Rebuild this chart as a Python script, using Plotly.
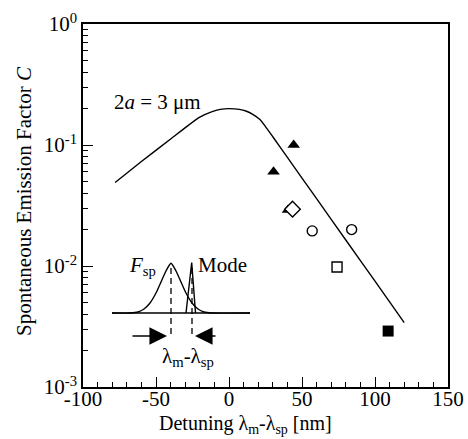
import math
import plotly.graph_objects as go

# ---- main data ----
curve_x = [-78, -60, -40, -29, -20, -12, -6, 0, 7, 12, 16, 21, 25, 30, 40, 60, 80, 100, 120]
curve_y = [0.049, 0.073, 0.112, 0.142, 0.170, 0.188, 0.197, 0.200, 0.197, 0.190, 0.180,
           0.163, 0.142, 0.117, 0.079, 0.036, 0.0164, 0.0075, 0.0034]

tri_x = [40.4, 30.5, 44.3]
tri_y = [0.029, 0.060, 0.100]
diamond_x = [43.5]
diamond_y = [0.0295]
circle_x = [57, 84]
circle_y = [0.0195, 0.0200]
osquare_x = [74]
osquare_y = [0.0098]
fsquare_x = [109]
fsquare_y = [0.0029]

x_tickvals = [-100, -50, 0, 50, 100, 150]
x_ticktext = ["-100", "-50", "0", "50", "100", "150"]
y_tickvals = [0.001, 0.01, 0.1, 1]
y_ticktext = ["10<sup>-3</sup>", "10<sup>-2</sup>", "10<sup>-1</sup>", "10<sup>0</sup>"]
y_minor = [m * 10 ** e for e in (-3, -2, -1) for m in range(2, 10)]

x_title = "Detuning λ<sub>m</sub>-λ<sub>sp</sub> [nm]"
y_title = "Spontaneous Emission Factor <i>C</i>"
label_text = "2<i>a</i> = 3 μm"
label_x, label_y = -80, 0.226

# ---- inset schematic (inset units) ----
inset_base_x = [12, 150]
inset_base_y = [57, 57]
gauss_x = [12, 30, 38, 44, 50, 56, 61, 66, 71, 76, 81, 86, 92, 98, 104, 112, 150]
gauss_y = [57, 57, 58, 61, 67, 77, 88, 99, 106.7, 99, 88, 77, 67, 61, 58, 57, 57]
mode_x = [86, 91.7, 95.5]
mode_y = [57, 107.5, 57]
dash_x = [71, 92]
dash_y = [102, 33]

FONT = "Liberation Serif, Times New Roman, serif"

fig = go.Figure()

fig.add_trace(go.Scatter(x=curve_x, y=curve_y, mode="lines",
                         line=dict(color="black", width=1.4, shape="spline", smoothing=0.5),
                         showlegend=False))
fig.add_trace(go.Scatter(x=tri_x, y=tri_y, mode="markers",
                         marker=dict(symbol="triangle-up", size=11, color="black"), showlegend=False))
fig.add_trace(go.Scatter(x=diamond_x, y=diamond_y, mode="markers",
                         marker=dict(symbol="diamond", size=12, color="white",
                                     line=dict(color="black", width=1.4)), showlegend=False))
fig.add_trace(go.Scatter(x=circle_x, y=circle_y, mode="markers",
                         marker=dict(symbol="circle", size=10, color="white",
                                     line=dict(color="black", width=1.4)), showlegend=False))
fig.add_trace(go.Scatter(x=osquare_x, y=osquare_y, mode="markers",
                         marker=dict(symbol="square", size=10, color="white",
                                     line=dict(color="black", width=1.4)), showlegend=False))
fig.add_trace(go.Scatter(x=fsquare_x, y=fsquare_y, mode="markers",
                         marker=dict(symbol="square", size=11, color="black"), showlegend=False))

# inset traces
fig.add_trace(go.Scatter(x=inset_base_x, y=inset_base_y, mode="lines", xaxis="x2", yaxis="y2",
                         line=dict(color="black", width=1.4), showlegend=False))
fig.add_trace(go.Scatter(x=gauss_x, y=gauss_y, mode="lines", xaxis="x2", yaxis="y2",
                         line=dict(color="black", width=1.4, shape="spline", smoothing=0.6),
                         showlegend=False))
fig.add_trace(go.Scatter(x=mode_x, y=mode_y, mode="lines", xaxis="x2", yaxis="y2",
                         line=dict(color="black", width=1.4), showlegend=False))
for dx in dash_x:
    fig.add_trace(go.Scatter(x=[dx, dx], y=dash_y, mode="lines", xaxis="x2", yaxis="y2",
                             line=dict(color="black", width=1.3, dash="6px,4px"), showlegend=False))

annotations = [
    dict(x=label_x, y=math.log10(label_y), xref="x", yref="y", text=label_text, showarrow=False,
         xanchor="left", yanchor="middle", font=dict(family=FONT, size=21, color="black")),
    dict(x=42, y=104, xref="x2", yref="y2", text="<i>F</i><sub>sp</sub>", showarrow=False,
         font=dict(family=FONT, size=21, color="black")),
    dict(x=122, y=105, xref="x2", yref="y2", text="Mode", showarrow=False,
         font=dict(family=FONT, size=21, color="black")),
    dict(x=88, y=13, xref="x2", yref="y2", text="λ<sub>m</sub>-λ<sub>sp</sub>", showarrow=False,
         font=dict(family=FONT, size=21, color="black")),
    dict(x=67, y=34, ax=31, ay=34, xref="x2", yref="y2", axref="x2", ayref="y2", text="",
         showarrow=True, arrowhead=2, arrowsize=2.7, arrowwidth=1.3, arrowcolor="black"),
    dict(x=95, y=34, ax=117, ay=34, xref="x2", yref="y2", axref="x2", ayref="y2", text="",
         showarrow=True, arrowhead=2, arrowsize=2.7, arrowwidth=1.3, arrowcolor="black"),
    # axis titles
    dict(x=(157 - 83) / 365, y=(387 - 424) / 363, xref="paper", yref="paper", text=x_title,
         showarrow=False, xanchor="left", yanchor="middle",
         font=dict(family=FONT, size=20, color="black")),
    dict(x=(24 - 83) / 365, y=(387 - 201) / 363, xref="paper", yref="paper", text=y_title,
         showarrow=False, textangle=-90, xanchor="center", yanchor="middle",
         font=dict(family=FONT, size=21, color="black")),
]

fig.update_layout(
    width=468, height=439,
    margin=dict(l=83, r=20, t=24, b=52),
    paper_bgcolor="white", plot_bgcolor="white",
    font=dict(family=FONT, size=21, color="black"),
    annotations=annotations,
    xaxis=dict(range=[-100, 150], tickmode="array", tickvals=x_tickvals, ticktext=x_ticktext,
               ticks="inside", ticklen=10, tickwidth=1.3, ticklabelstandoff=-8,
               tickcolor="black", showline=True, linecolor="black", linewidth=1.5, mirror=True,
               showgrid=False, zeroline=False, tickfont=dict(family=FONT, size=21, color="black"),
               automargin=False,
               minor=dict(dtick=10, tick0=0, ticks="inside", ticklen=5, tickwidth=1.2, tickcolor="black",
                          showgrid=False)),
    yaxis=dict(type="log", range=[-3, 0], tickmode="array", tickvals=y_tickvals, ticktext=y_ticktext,
               ticks="inside", ticklen=10, tickwidth=1.3, tickcolor="black",
               showline=True, linecolor="black", linewidth=1.5, mirror=True, automargin=False,
               showgrid=False, zeroline=False, tickfont=dict(family=FONT, size=21, color="black"),
               minor=dict(tickmode="array", tickvals=y_minor, ticks="inside", ticklen=5, tickwidth=1.2,
                          tickcolor="black", showgrid=False)),
    xaxis2=dict(domain=[(100 - 83) / 365, (260 - 83) / 365], range=[0, 160], visible=False,
                anchor="y2", fixedrange=True),
    yaxis2=dict(domain=[(387 - 370) / 363, (387 - 250) / 363], range=[0, 120], visible=False,
                anchor="x2", fixedrange=True),
)

fig.write_html("out.html", config={"displayModeBar": False},
               post_script="document.body.style.margin='0';document.body.style.overflow='hidden';")
